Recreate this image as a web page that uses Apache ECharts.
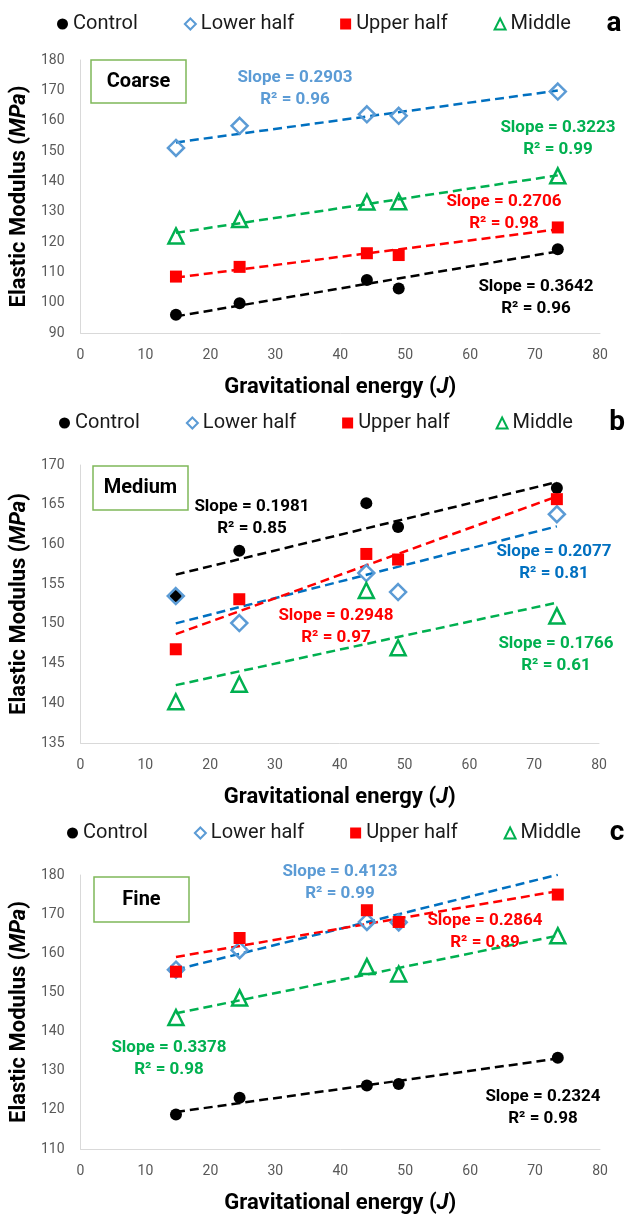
<!DOCTYPE html>
<html>
<head>
<meta charset="utf-8">
<script src="https://cdn.jsdelivr.net/npm/echarts@6/dist/echarts.min.js"></script>
<style>
  html, body { margin: 0; padding: 0; background: #fff; }
  #chart { width: 627px; height: 1215px; }
</style>
</head>
<body>
<div id="chart"></div>
<script>
// drop energies (J), shared by all panels
const energy = [14.7, 24.5, 44.1, 49, 73.5]
const seriesNames = ['Control', 'Lower half', 'Upper half', 'Middle']

// elastic modulus (MPa), coarse
const coarseControl = [96.0, 99.8, 107.5, 104.7, 117.6]
const coarseLower = [151.0, 158.3, 162.1, 161.6, 169.6]
const coarseUpper = [108.6, 111.8, 116.3, 115.7, 124.8]
const coarseMiddle = [122.0, 127.4, 133.2, 133.3, 141.8]
const coarseSlope = [0.3642, 0.2903, 0.2706, 0.3223]
const coarseR2 = [0.96, 0.96, 0.98, 0.99]

// medium
const mediumControl = [153.5, 159.2, 165.2, 162.2, 167.1]
const mediumLower = [153.5, 150.1, 156.4, 154.0, 163.8]
const mediumUpper = [146.8, 153.1, 158.8, 158.1, 165.7]
const mediumMiddle = [140.2, 142.4, 154.2, 147.0, 151.0]
const mediumSlope = [0.1981, 0.2077, 0.2948, 0.1766]
const mediumR2 = [0.85, 0.81, 0.97, 0.61]

// fine (last lower-half point lies above the axis max)
const fineControl = [118.8, 123.1, 126.2, 126.6, 133.3]
const fineLower = [155.8, 160.8, 168.0, 167.9, 181.2]
const fineUpper = [155.3, 163.9, 171.0, 168.0, 175.0]
const fineMiddle = [143.6, 148.6, 156.6, 154.7, 164.5]
const fineSlope = [0.2324, 0.4123, 0.2864, 0.3378]
const fineR2 = [0.98, 0.99, 0.89, 0.98]

// y axis ranges [min, max, interval]
const coarseYAxis = [90, 180, 10]
const mediumYAxis = [135, 170, 5]
const fineYAxis = [110, 180, 10]
const xAxisRange = [0, 80, 10]

const panelLabels = ['Coarse', 'Medium', 'Fine']
const panelLetters = ['a', 'b', 'c']

const FONT = 'Roboto'
const markerColors = ['#000000', '#5B9BD5', '#FF0000', '#00B050']
const lineColors = ['#000000', '#0070C0', '#FF0000', '#00B050']
const symbols = ['circle', 'diamond', 'rect', 'triangle']
const symbolSizes = [12, 16, 12, 15]
const hollow = [false, true, false, true]

const panels = [
  {
    values: [coarseControl, coarseLower, coarseUpper, coarseMiddle],
    slope: coarseSlope, r2: coarseR2, y: coarseYAxis,
    grid: { left: 76, top: 60, width: 524, height: 273 },
    legendTop: 9, legendLeft: 52, letterPos: [614, 24],
    box: [91, 60, 95, 43],
    // annotation centres (x, y of slope line), one per series
    notes: [[536, 287], [295, 78], [504, 202], [558, 128]],
    lowerNoteColor: '#5B9BD5'
  },
  {
    values: [mediumControl, mediumLower, mediumUpper, mediumMiddle],
    slope: mediumSlope, r2: mediumR2, y: mediumYAxis,
    grid: { left: 77, top: 465, width: 522, height: 278 },
    legendTop: 408, legendLeft: 54, letterPos: [617, 423],
    box: [93, 466, 95, 44],
    notes: [[252, 507], [554, 552], [336, 616], [556, 644]],
    lowerNoteColor: '#0070C0'
  },
  {
    values: [fineControl, fineLower, fineUpper, fineMiddle],
    slope: fineSlope, r2: fineR2, y: fineYAxis,
    grid: { left: 77, top: 875, width: 523, height: 279 },
    legendTop: 818, legendLeft: 62, letterPos: [617, 833],
    box: [94, 877, 95, 45],
    notes: [[543, 1097], [340, 872], [485, 921], [169, 1048]],
    lowerNoteColor: '#5B9BD5'
  }
]

function trendLine(vals, slope) {
  const mx = energy.reduce((a, b) => a + b, 0) / energy.length
  const my = vals.reduce((a, b) => a + b, 0) / vals.length
  const x0 = energy[0]
  const x1 = energy[energy.length - 1]
  return [[x0, my + slope * (x0 - mx)], [x1, my + slope * (x1 - mx)]]
}

const legendData = seriesNames.map((name, k) => ({
  name: name,
  icon: symbols[k],
  itemStyle: hollow[k]
    ? { color: 'rgba(0,0,0,0)', borderColor: markerColors[k], borderWidth: 2, opacity: 1 }
    : { color: markerColors[k], borderWidth: 0, opacity: 1 }
}))

const titleStyle = {
  fontFamily: FONT, fontSize: 22, fontWeight: 'bold', color: '#000',
  rich: { i: { fontFamily: FONT, fontSize: 22, fontWeight: 'bold', fontStyle: 'italic', color: '#000' } }
}

const grids = []
const xAxes = []
const yAxes = []
const legends = []
const series = []
const graphics = []

panels.forEach((p, i) => {
  grids.push(p.grid)
  xAxes.push({
    type: 'value', gridIndex: i,
    min: xAxisRange[0], max: xAxisRange[1], interval: xAxisRange[2],
    name: 'Gravitational energy ({i|J})',
    nameLocation: 'middle', nameGap: 43,
    nameTextStyle: titleStyle,
    axisLine: { lineStyle: { color: '#D9D9D9', width: 1 } },
    axisTick: { show: false },
    splitLine: { show: false },
    axisLabel: { fontFamily: FONT, fontSize: 14, color: '#595959', margin: 15 }
  })
  yAxes.push({
    type: 'value', gridIndex: i,
    min: p.y[0], max: p.y[1], interval: p.y[2],
    name: 'Elastic Modulus ({i|MPa})',
    nameLocation: 'middle', nameRotate: 90, nameGap: 46,
    nameTextStyle: titleStyle,
    axisLine: { show: true, lineStyle: { color: '#D9D9D9', width: 1 } },
    axisTick: { show: false },
    splitLine: { show: false },
    axisLabel: { fontFamily: FONT, fontSize: 14, color: '#595959', margin: 16 }
  })
  legends.push({
    top: p.legendTop, left: p.legendLeft,
    itemWidth: 11, itemHeight: 11, itemGap: 46,
    selectedMode: false,
    textStyle: { fontFamily: FONT, fontSize: 20, color: '#1a1a1a' },
    data: legendData
  })

  p.values.forEach((vals, k) => {
    series.push({
      name: seriesNames[k] + ' fit',
      type: 'line', xAxisIndex: i, yAxisIndex: i,
      data: trendLine(vals, p.slope[k]),
      symbol: 'none', silent: true, z: 1,
      lineStyle: { color: lineColors[k], width: 2.5, type: [9, 5] }
    })
  })
  p.values.forEach((vals, k) => {
    series.push({
      name: seriesNames[k],
      type: 'scatter', xAxisIndex: i, yAxisIndex: i,
      data: energy.map((x, j) => [x, vals[j]]),
      symbol: symbols[k], symbolSize: symbolSizes[k], z: 3,
      clip: true,
      itemStyle: hollow[k]
        ? { color: 'rgba(0,0,0,0)', borderColor: markerColors[k], borderWidth: 2.5, opacity: 1 }
        : { color: markerColors[k], opacity: 1 },
      emphasis: { disabled: true }
    })
  })

  // label box
  graphics.push({
    type: 'rect', z: 10,
    shape: { x: p.box[0], y: p.box[1], width: p.box[2], height: p.box[3] },
    style: { fill: '#fff', stroke: '#7FB85A', lineWidth: 1.5 }
  })
  graphics.push({
    type: 'text', z: 11,
    x: p.box[0] + p.box[2] / 2, y: p.box[1] + p.box[3] / 2,
    style: { text: panelLabels[i], font: 'bold 20px ' + FONT, fill: '#000', align: 'center', verticalAlign: 'middle' }
  })
  // panel letter
  graphics.push({
    type: 'text', z: 11,
    x: p.letterPos[0], y: p.letterPos[1],
    style: { text: panelLetters[i], font: 'bold 28px ' + FONT, fill: '#000', align: 'center', verticalAlign: 'middle' }
  })
  // slope / R² notes
  p.notes.forEach((pos, k) => {
    const color = k === 1 ? p.lowerNoteColor : lineColors[k]
    graphics.push({
      type: 'text', z: 11, x: pos[0], y: pos[1],
      style: { text: 'Slope = ' + p.slope[k].toFixed(4), font: 'bold 17px ' + FONT, fill: color, align: 'center', verticalAlign: 'middle' }
    })
    graphics.push({
      type: 'text', z: 11, x: pos[0], y: pos[1] + 22,
      style: { text: 'R² = ' + p.r2[k].toFixed(2), font: 'bold 17px ' + FONT, fill: color, align: 'center', verticalAlign: 'middle' }
    })
  })
})

const chart = echarts.init(document.getElementById('chart'), null, { renderer: 'canvas' })
chart.setOption({
  backgroundColor: '#fff',
  animation: false,
  grid: grids,
  xAxis: xAxes,
  yAxis: yAxes,
  legend: legends,
  series: series,
  graphic: graphics
})
</script>
</body>
</html>
